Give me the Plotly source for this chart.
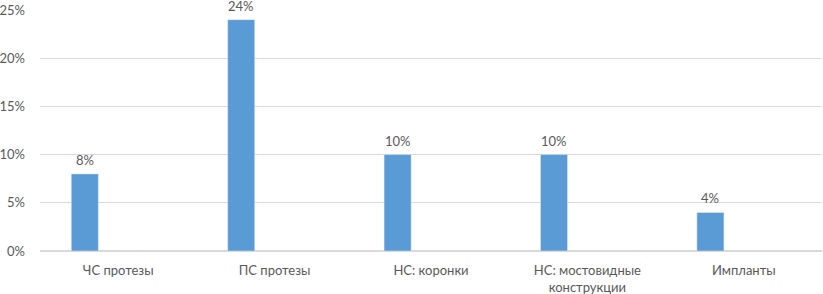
import plotly.graph_objects as go

categories = ["ЧС протезы", "ПС протезы", "НС: коронки", "НС: мостовидные<br>конструкции", "Импланты"]
values = [0.08, 0.24, 0.10, 0.10, 0.04]
labels = ["8%", "24%", "10%", "10%", "4%"]

BAR_OFFSET = -0.3
BAR_WIDTH = 0.173

fig = go.Figure()
fig.add_trace(go.Bar(
    x=categories, y=values,
    marker_color="#5B9BD5", width=BAR_WIDTH, offset=BAR_OFFSET,
))
for i, (v, t) in enumerate(zip(values, labels)):
    fig.add_annotation(
        x=i + BAR_OFFSET + BAR_WIDTH / 2, y=v, xref="x2", yref="y",
        text=t, showarrow=False, yanchor="bottom", yshift=4,
        font=dict(color="#595959", size=13, family="Lato"),
    )
fig.update_layout(
    width=823, height=294,
    margin=dict(l=40, r=1, t=10, b=43),
    plot_bgcolor="white", paper_bgcolor="white",
    font=dict(family="Lato", size=13, color="#595959"),
    showlegend=False,
    yaxis=dict(range=[0, 0.25], dtick=0.05, tickformat=".0%", showgrid=True,
               gridcolor="#D9D9D9", zeroline=True, zerolinecolor="#D9D9D9",
               ticks="", ticklabelstandoff=14, automargin=False),
    xaxis=dict(showgrid=False, ticks="", showline=False, automargin=False,
               ticklabelstandoff=10),
    xaxis2=dict(overlaying="x", range=[-0.5, len(categories) - 0.5], visible=False),
)
fig.write_html("out.html", config={"displayModeBar": False},
               post_script="document.body.style.margin='0';")
